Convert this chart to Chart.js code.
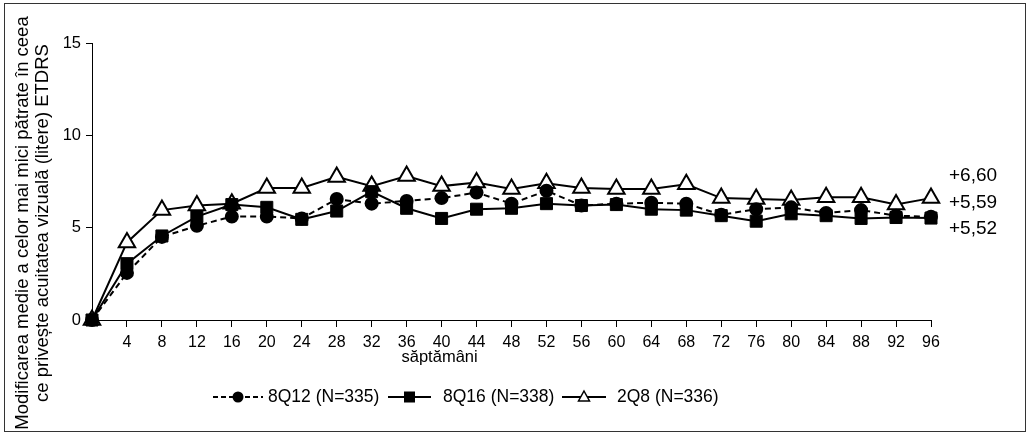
<!DOCTYPE html>
<html>
<head>
<meta charset="utf-8">
<script src="https://cdn.jsdelivr.net/npm/chart.js@4/dist/chart.umd.min.js"></script>
<style>
  html, body { margin: 0; padding: 0; background: #fff; }
  canvas { display: block; }
</style>
</head>
<body>
<canvas id="chart" width="1030" height="437"></canvas>
<script>
// Weeks and mean change values (ETDRS letters)
const weeks = [0, 4, 8, 12, 16, 20, 24, 28, 32, 36, 40, 44, 48, 52, 56, 60, 64, 68, 72, 76, 80, 84, 88, 92, 96];
const q12 = [0, 2.55, 4.5, 5.1, 5.6, 5.6, 5.5, 6.55, 6.3, 6.45, 6.6, 6.9, 6.3, 7.0, 6.2, 6.3, 6.35, 6.3, 5.7, 6.0, 6.1, 5.8, 5.95, 5.65, 5.59];
const q16 = [0, 3.05, 4.55, 5.6, 6.25, 6.1, 5.45, 5.9, 6.95, 6.05, 5.5, 6.0, 6.05, 6.3, 6.2, 6.25, 6.0, 5.95, 5.65, 5.35, 5.75, 5.65, 5.5, 5.55, 5.52];
const q8 = [0, 4.2, 5.95, 6.2, 6.3, 7.15, 7.15, 7.75, 7.25, 7.8, 7.25, 7.45, 7.1, 7.4, 7.15, 7.1, 7.1, 7.35, 6.6, 6.55, 6.5, 6.65, 6.65, 6.25, 6.6];

const seriesLabels = ['8Q12 (N=335)', '8Q16 (N=338)', '2Q8 (N=336)'];
const endLabels = ['+6,60', '+5,59', '+5,52'];
const yTitle = ['Modificarea medie a celor mai mici pătrate în ceea', 'ce privește acuitatea vizuală (litere) ETDRS'];
const xTitle = 'săptămâni';

const FONT = '"Liberation Sans", Arial, sans-serif';

function toPoints(values) {
    return weeks.map((w, i) => ({ x: w, y: values[i] }));
}

// Extra drawing: frame, axis titles, end labels, legend
const decorations = {
    id: 'decorations',
    afterDraw(chart) {
        const ctx = chart.ctx;
        const xs = chart.scales.x;
        ctx.save();

        // outer frame
        ctx.strokeStyle = '#333';
        ctx.lineWidth = 1;
        ctx.strokeRect(4.5, 3.5, 1021, 428);

        ctx.fillStyle = '#000';
        ctx.textBaseline = 'middle';

        // y title, two rotated lines
        ctx.save();
        ctx.font = '18.5px ' + FONT;
        ctx.textAlign = 'center';
        ctx.translate(23, 223);
        ctx.rotate(-Math.PI / 2);
        ctx.fillText(yTitle[0], 0, 0);
        ctx.fillText(yTitle[1], 0, 20);
        ctx.restore();

        // x title
        ctx.font = '16.5px ' + FONT;
        ctx.textAlign = 'center';
        ctx.fillText(xTitle, xs.getPixelForValue(40) - 2, 357);

        // end-of-line labels
        ctx.font = '19px ' + FONT;
        ctx.textAlign = 'left';
        ctx.fillText(endLabels[0], 949, 176);
        ctx.fillText(endLabels[1], 949, 203);
        ctx.fillText(endLabels[2], 949, 229);

        // legend
        const ly = 397;
        ctx.font = '17.5px ' + FONT;
        ctx.strokeStyle = '#000';
        ctx.lineWidth = 2;

        ctx.setLineDash([5, 3]);
        ctx.beginPath(); ctx.moveTo(213, ly); ctx.lineTo(263, ly); ctx.stroke();
        ctx.setLineDash([]);
        ctx.beginPath(); ctx.arc(238, ly, 5.5, 0, Math.PI * 2); ctx.fill();
        ctx.fillText(seriesLabels[0], 268, ly);

        ctx.beginPath(); ctx.moveTo(388, ly); ctx.lineTo(431, ly); ctx.stroke();
        ctx.fillRect(404, ly - 5.5, 11, 11);
        ctx.fillText(seriesLabels[1], 443, ly);

        ctx.beginPath(); ctx.moveTo(562, ly); ctx.lineTo(606, ly); ctx.stroke();
        ctx.beginPath();
        ctx.moveTo(584, ly - 6); ctx.lineTo(589.5, ly + 4); ctx.lineTo(578.5, ly + 4); ctx.closePath();
        ctx.fillStyle = '#fff'; ctx.fill();
        ctx.lineWidth = 1.5; ctx.stroke();
        ctx.fillStyle = '#000';
        ctx.fillText(seriesLabels[2], 617, ly);

        ctx.restore();
    }
};

new Chart(document.getElementById('chart'), {
    type: 'line',
    data: {
        datasets: [
            {
                label: seriesLabels[1],
                data: toPoints(q16),
                borderColor: '#000',
                borderWidth: 2,
                pointStyle: 'rect',
                pointRadius: 8.5,
                pointBackgroundColor: '#000',
                pointBorderColor: '#000',
                pointBorderWidth: 1,
                clip: false,
                order: 1
            },
            {
                label: seriesLabels[0],
                data: toPoints(q12),
                borderColor: '#000',
                borderWidth: 2,
                borderDash: [6, 4],
                pointStyle: 'circle',
                pointRadius: 6,
                pointBackgroundColor: '#000',
                pointBorderColor: '#000',
                clip: false,
                order: 2
            },
            {
                label: seriesLabels[2],
                data: toPoints(q8),
                borderColor: '#000',
                borderWidth: 2,
                pointStyle: 'triangle',
                pointRadius: 9.5,
                pointBackgroundColor: '#fff',
                pointBorderColor: '#000',
                pointBorderWidth: 2,
                clip: false,
                order: 3
            }
        ]
    },
    options: {
        responsive: false,
        devicePixelRatio: 1,
        animation: false,
        layout: { padding: { left: 0, right: 99, top: 43, bottom: 0 } },
        plugins: {
            legend: { display: false },
            tooltip: { enabled: false }
        },
        scales: {
            x: {
                type: 'linear',
                min: 0,
                max: 96,
                afterFit(scale) { scale.height = 117; },
                ticks: {
                    stepSize: 4,
                    color: '#000',
                    padding: 6,
                    maxRotation: 0,
                    autoSkip: false,
                    font: { family: FONT, size: 16 },
                    callback: v => (v === 0 ? '' : v)
                },
                grid: {
                    drawOnChartArea: false,
                    drawTicks: true,
                    tickLength: 7,
                    color: ctx => (ctx.tick && ctx.tick.value === 0 ? 'rgba(0,0,0,0)' : '#000')
                },
                border: { display: true, color: '#000', width: 1 }
            },
            y: {
                min: 0,
                max: 15,
                afterFit(scale) { scale.width = 92; },
                ticks: {
                    stepSize: 5,
                    color: '#000',
                    padding: 5,
                    font: { family: FONT, size: 16.5 }
                },
                grid: {
                    drawOnChartArea: false,
                    drawTicks: true,
                    tickLength: 6,
                    color: '#000'
                },
                border: { display: true, color: '#000', width: 1 }
            }
        }
    },
    plugins: [decorations]
});
</script>
</body>
</html>
